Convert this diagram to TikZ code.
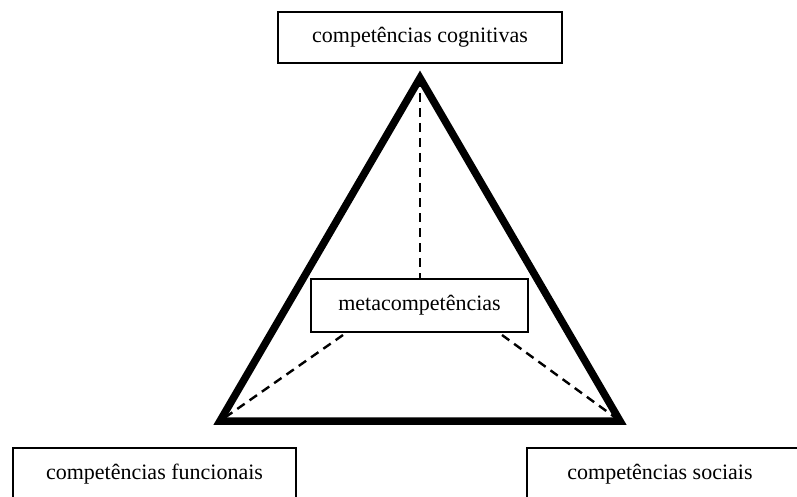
\documentclass[tikz,border=0pt]{standalone}
\usepackage{fontspec}
\setmainfont{Liberation Serif}
\begin{document}
\begin{tikzpicture}[x=1pt,y=-1pt,
  label text/.style={font=\fontsize{22}{26}\selectfont, text=black, inner sep=0pt},
  framebox/.style={label text, draw=black, line width=2pt, fill=white},
  edgeline/.style={draw=black, line width=7.5pt, line join=miter, miter limit=10},
  guide/.style={draw=black, line width=2.4pt, dash pattern=on 9pt off 6pt}]
  \useasboundingbox (0,0) rectangle (797,497);
  \clip (0,0) rectangle (797,497);

  % corners of the triangle
  \coordinate (apex) at (420,78);
  \coordinate (bl) at (220,421);
  \coordinate (br) at (620,421);

  % outer triangle
  \path[edgeline] (apex) -- (bl) -- (br) -- cycle;

  % central box
  \node[framebox, minimum width=217pt, minimum height=53pt] (meta) at (419.5,305.5) {metacompetências};
  \coordinate (metaL) at (343,335);
  \coordinate (metaR) at (502,335);

  % dashed guides from the centre to the corners
  \path[guide] (apex) -- (meta.north -| apex);
  \path[guide] (metaL) -- (bl);
  \path[guide] (metaR) -- (br);

  % top label
  \node[framebox, minimum width=284pt, minimum height=51pt] (cog) at (420,37.5) {competências cognitivas};

  % bottom left label
  \node[framebox, minimum width=283pt, minimum height=52pt] (fun) at (154.5,474) {competências funcionais};

  % bottom right label, frame runs past the page edge
  \draw[line width=2pt] (527,530) |- (830,448);
  \node[label text] (soc) at (660,474) {competências sociais};
\end{tikzpicture}
\end{document}
